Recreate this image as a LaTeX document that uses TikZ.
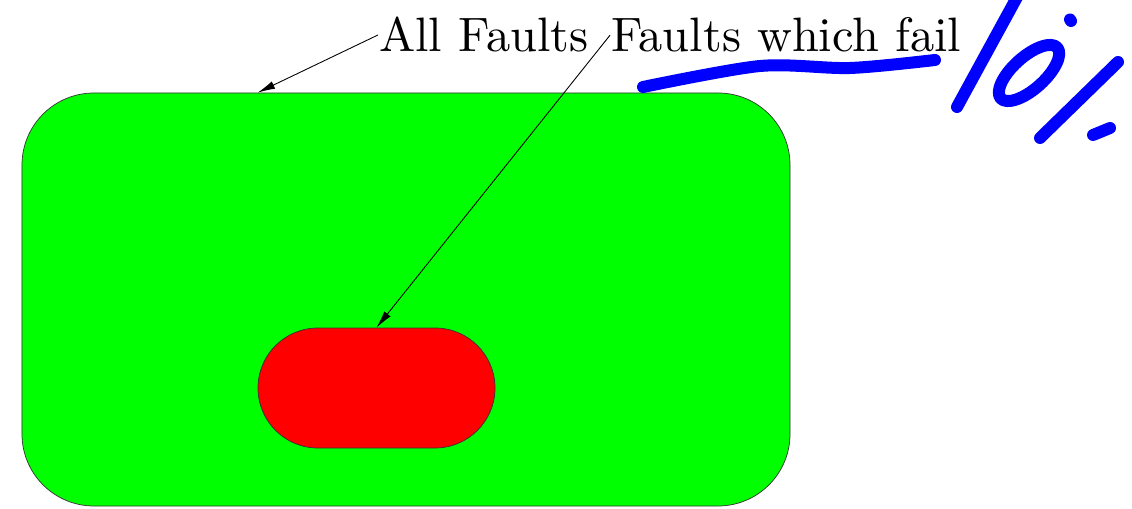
\documentclass[tikz,border=0pt]{standalone}
\usepackage{fontspec}
\newfontfamily\lmten{lmroman10-regular}[Extension=.otf]
\usetikzlibrary{positioning, arrows.meta, calc}

\begin{document}
\begin{tikzpicture}[
	label/.style={anchor=base west, inner sep=0.5pt, font=\lmten\fontsize{27.5}{33}\selectfont},
	pointer/.style={-{Latex[length=3.5mm, width=1.6mm]}, line width=0.5pt},
	ink/.style={blue, line width=0.24cm, line cap=round, line join=round}]
	\useasboundingbox (0,0) rectangle (22.64,10.16);
	\node[draw=black!80, fill=green, rounded corners=1.44cm, minimum width=15.36cm, minimum height=8.26cm, inner sep=0pt] (space) at (8.12,4.17) {};
	\node[draw=black!80, fill=red, rounded corners=1.2cm, minimum width=4.74cm, minimum height=2.4cm, inner sep=0pt] (fail) at (7.53,2.4) {};
	\node[label] (all) at (7.56,9.12) {All Faults};
	\node[label] (which) at (12.2,9.12) {Faults which fail};
	\coordinate (allend) at ($(space.north west)+(4.72,0)$);
	\draw[pointer] (all.west) -- (allend);
	\draw[pointer] (which.west) -- (fail.north);
	\draw[ink] plot[smooth] coordinates {(12.86,8.42) (15.2,8.84) (17.0,8.8) (18.7,8.96)};
	\draw[ink] (20.44,10.4) -- (19.14,8.02);
	\draw[ink, rotate around={42:(20.58,8.7)}] (20.58,8.7) ellipse (0.76 and 0.32);
	\draw[ink] (21.4,9.77) -- (21.42,9.74);
	\draw[ink] (22.36,8.92) -- (20.8,7.4);
	\draw[ink] (21.86,7.46) -- (22.2,7.6);
\end{tikzpicture}
\end{document}
